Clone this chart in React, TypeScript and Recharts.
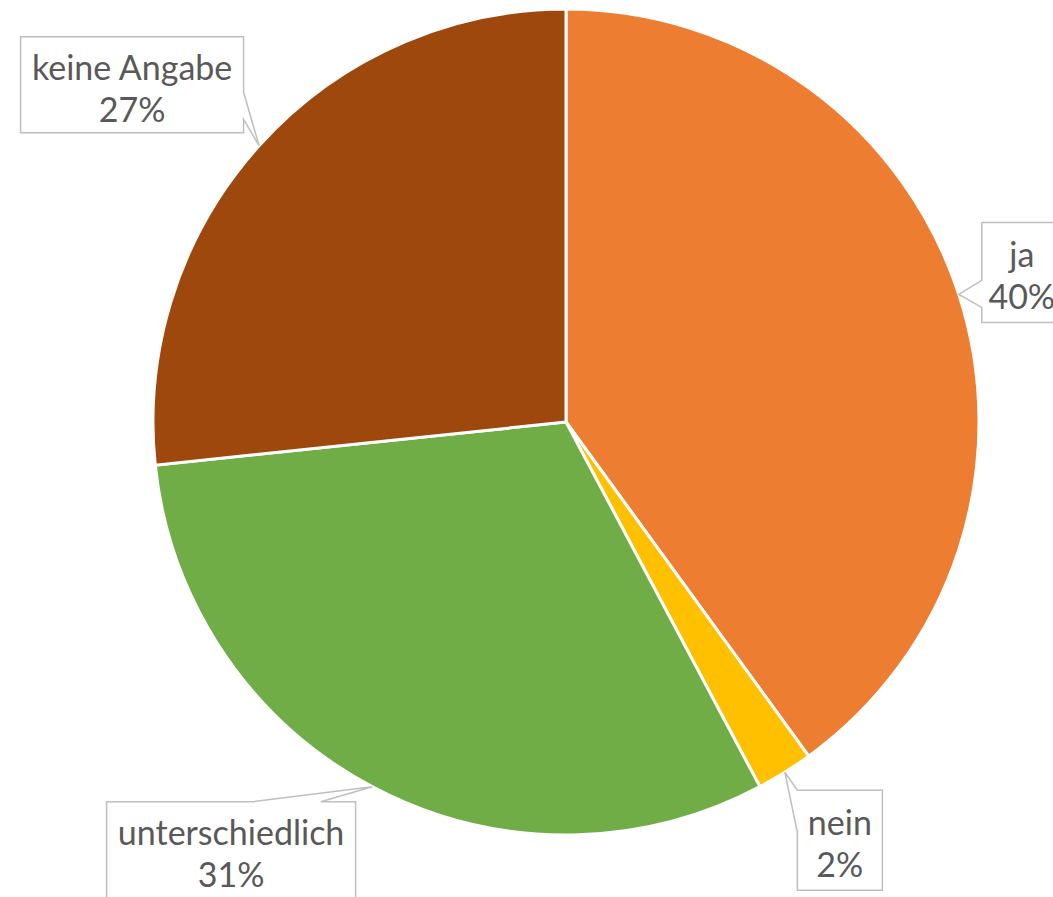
import { Cell, Pie, PieChart } from "recharts";

const categories = ["ja", "nein", "unterschiedlich", "keine Angabe"];
const counts = [18, 1, 14, 12];
const colors = ["#ED7D31", "#FFC000", "#70AD47", "#9E480E"];

// callout box layout, relative to the point on the pie edge at each slice's middle
const callouts = [
  { dx: 63, dy: -22, w: 80, h: 100, side: "left", from: 0.58, to: 0.85 },
  { dx: 55, dy: 68, w: 85, h: 100, side: "left", from: 0.0, to: 0.42 },
  { dx: -141, dy: 63, w: 249, h: 96, side: "top", from: 0.59, to: 0.86 },
  { dx: -127, dy: -61, w: 223, h: 96, side: "right", from: 0.58, to: 0.86 },
];

const data = categories.map((name, i) => ({ name, value: counts[i] }));
const RAD = Math.PI / 180;

function calloutPath(x0: number, y0: number, w: number, h: number, c: any, tx: number, ty: number) {
  const x1 = x0 + w;
  const y1 = y0 + h;
  const pts: string[] = [`M${x0},${y0}`];
  if (c.side === "top") {
    pts.push(`L${x0 + w * c.from},${y0}`, `L${tx},${ty}`, `L${x0 + w * c.to},${y0}`);
  }
  pts.push(`L${x1},${y0}`);
  if (c.side === "right") {
    pts.push(`L${x1},${y0 + h * c.from}`, `L${tx},${ty}`, `L${x1},${y0 + h * c.to}`);
  }
  pts.push(`L${x1},${y1}`, `L${x0},${y1}`);
  if (c.side === "left") {
    pts.push(`L${x0},${y0 + h * c.to}`, `L${tx},${ty}`, `L${x0},${y0 + h * c.from}`);
  }
  pts.push("Z");
  return pts.join(" ");
}

const renderLabel = (props: any) => {
  const { cx, cy, midAngle, outerRadius, index, percent, name } = props;
  const c = callouts[index];
  const tx = cx + outerRadius * Math.cos(-midAngle * RAD);
  const ty = cy + outerRadius * Math.sin(-midAngle * RAD);
  const bx = tx + c.dx;
  const by = ty + c.dy;
  const x0 = bx - c.w / 2;
  const y0 = by - c.h / 2;
  return (
    <g key={`lbl-${index}`}>
      <path d={calloutPath(x0, y0, c.w, c.h, c, tx, ty)} fill="#fff" stroke="#bfbfbf" strokeWidth={1.5} />
      <text x={bx} y={by - 5} textAnchor="middle" fill="#595959" fontSize={34} fontFamily="Lato">
        {name}
      </text>
      <text x={bx} y={by + 37} textAnchor="middle" fill="#595959" fontSize={34} fontFamily="Lato">
        {`${Math.round(percent * 100)}%`}
      </text>
    </g>
  );
};

export default function App() {
  return (
    <div style={{ position: "absolute", left: 0, top: 0, width: 1053, height: 897, background: "#fff", overflow: "hidden" }}>
      <PieChart width={1053} height={897} margin={{ top: 0, right: 0, bottom: 0, left: 0 }}>
        <Pie
          data={data}
          dataKey="value"
          nameKey="name"
          cx={566}
          cy={422}
          outerRadius={413}
          startAngle={90}
          endAngle={-270}
          stroke="#fff"
          strokeWidth={3}
          label={renderLabel}
          labelLine={false}
          isAnimationActive={false}
        >
          {data.map((d, i) => (
            <Cell key={d.name} fill={colors[i]} />
          ))}
        </Pie>
      </PieChart>
    </div>
  );
}
